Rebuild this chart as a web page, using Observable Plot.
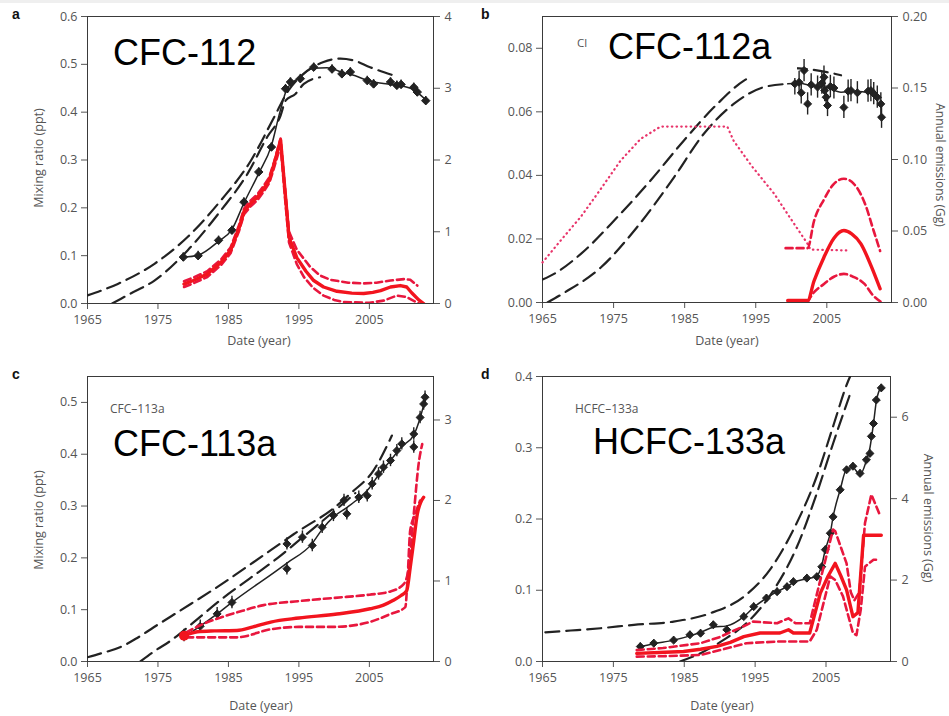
<!DOCTYPE html>
<html><head><meta charset="utf-8">
<script src="https://cdn.jsdelivr.net/npm/d3@7"></script>
<script src="https://cdn.jsdelivr.net/npm/@observablehq/plot@0.6"></script>
<style>
html,body{margin:0;padding:0;background:#fff;}
#root{position:relative;width:949px;height:716px;overflow:hidden;background:#fff;}
#root > div, #root > svg.overlay{position:absolute;}
</style></head>
<body><div id="root"></div>
<script>
// ---------- shared axis values ----------
const X_DOMAIN = [1965, 2014.1];
const X_TICKS = [1965, 1975, 1985, 1995, 2005];

// ---------- panel a : CFC-112 ----------
const a_obs = [[1978.6,0.097],[1980.7,0.100],[1983.6,0.132],[1985.5,0.153],[1987.2,0.212],[1989.3,0.275],[1991.1,0.327],[1993.1,0.449],[1993.8,0.463],[1995.2,0.470],[1997.1,0.494],[1999.7,0.490],[2001.1,0.480],[2002.3,0.484],[2004.7,0.466],[2005.6,0.459],[2008.0,0.463],[2008.9,0.456],[2009.5,0.458],[2011.3,0.452],[2011.8,0.442],[2013.0,0.424]];
const a_fit = [[1978.6,0.097],[1980.7,0.101],[1983.6,0.130],[1985.5,0.155],[1987.2,0.210],[1989.3,0.272],[1991.1,0.330],[1992.3,0.400],[1993.3,0.448],[1995.0,0.472],[1997.0,0.492],[1999.0,0.493],[2001.0,0.484],[2003.0,0.476],[2005.0,0.465],[2007.0,0.460],[2009.0,0.456],[2011.0,0.449],[2013.0,0.426]];
const a_modHi = [[1965,0.017],[1969.3,0.041],[1974.5,0.083],[1979.2,0.139],[1983.9,0.215],[1988.2,0.299],[1991.5,0.390],[1993.5,0.445],[1995.5,0.478],[1998.5,0.505],[2000.9,0.512],[2002.8,0.508],[2005.1,0.494],[2008.4,0.477]];
const a_modLo = [[1968.5,0.0],[1971,0.02],[1974.5,0.048],[1979.2,0.111],[1983.9,0.194],[1987.7,0.271],[1990.5,0.348],[1992.4,0.393],[1993.1,0.424],[1994.5,0.438],[1995.7,0.459],[1998.0,0.473]];
const a_emis = [[1978.7,0.27],[1980,0.32],[1982,0.41],[1984,0.58],[1985.3,0.74],[1986.5,1.05],[1987.2,1.28],[1988.2,1.40],[1989.1,1.48],[1990,1.60],[1990.8,1.72],[1991.5,1.95],[1992.4,2.28],[1993.0,1.60],[1993.6,0.92],[1994.7,0.64],[1996,0.45],[1997.1,0.32],[1998.5,0.23],[2000.4,0.17],[2002.5,0.145],[2004.2,0.14],[2005.5,0.155],[2006.6,0.18],[2008,0.23],[2009.4,0.25],[2010.3,0.23],[2011,0.15],[2012,0.05],[2012.7,0.0]];
const a_emisHi = [[1978.7,0.31],[1980,0.36],[1982,0.45],[1984,0.62],[1985.3,0.78],[1986.5,1.09],[1987.2,1.32],[1988.2,1.44],[1989.1,1.52],[1990,1.64],[1990.8,1.76],[1991.5,1.98],[1992.4,2.30],[1993.0,1.65],[1993.6,1.00],[1994.7,0.75],[1996.6,0.51],[1998,0.39],[1999.5,0.33],[2002,0.29],[2004.2,0.28],[2006,0.29],[2008,0.32],[2009.9,0.34],[2010.8,0.33],[2011.8,0.25]];
const a_emisLo = [[1978.7,0.23],[1980,0.28],[1982,0.37],[1984,0.54],[1985.3,0.70],[1986.5,1.01],[1987.2,1.24],[1988.2,1.36],[1989.1,1.44],[1990,1.56],[1990.8,1.68],[1991.5,1.90],[1992.4,2.20],[1993.0,1.50],[1993.6,0.85],[1994.7,0.55],[1995.7,0.37],[1997,0.22],[1998.5,0.11],[2000,0.05],[2001.4,0.02],[2005,0.01],[2007,0.04],[2008.9,0.11],[2010.3,0.09],[2012,0.0]];
const a_ticksL = [0,0.1,0.2,0.3,0.4,0.5,0.6];
const a_ticksR = [0,1,2,3,4];

// ---------- panel b : CFC-112a ----------
const b_obs = [[2000.5,0.0688],[2001.1,0.0693],[2001.4,0.0660],[2001.8,0.0730],[2002.3,0.0625],[2002.8,0.0685],[2003.7,0.0678],[2004.3,0.0690],[2004.6,0.0709],[2004.7,0.0667],[2004.9,0.0646],[2005.1,0.0620],[2005.5,0.0680],[2006.0,0.0675],[2007.4,0.0614],[2008.0,0.0665],[2008.4,0.0667],[2009.3,0.0660],[2010.8,0.0665],[2011.2,0.0667],[2011.6,0.0657],[2012.1,0.0646],[2012.6,0.0625],[2012.7,0.0583]];
const b_fit = [[1999.5,0.0688],[2001,0.0690],[2003,0.0682],[2005,0.0676],[2007,0.0662],[2009,0.0665],[2011,0.0660],[2012.6,0.0645]];
const b_modHi = [[1965,0.0072],[1967,0.0095],[1970.4,0.0153],[1975.5,0.0268],[1980.2,0.0384],[1984.9,0.0510],[1989.6,0.0625],[1993.4,0.0699],[1996,0.0725],[1999,0.0738],[2002,0.0735],[2005,0.0725],[2007,0.0715]];
const b_modLo = [[1965.7,0.0],[1968,0.003],[1973.2,0.011],[1978.3,0.0237],[1983.5,0.0394],[1987.7,0.0531],[1991.9,0.0625],[1996.2,0.0678],[1999.5,0.0688]];
const b_scen = [[1965,0.028],[1967.5,0.043],[1970.4,0.060],[1973,0.078],[1976,0.0993],[1978.8,0.1144],[1981.6,0.123],[1991,0.123],[1991.9,0.113],[1994.5,0.095],[1997.6,0.076],[2000,0.058],[2002.3,0.041],[2002.7,0.037],[2007.9,0.0364]];
const b_emis = [[1999.5,0.0014],[2002.3,0.0014],[2003.2,0.015],[2004.6,0.0317],[2006,0.045],[2007.4,0.0503],[2008.5,0.048],[2009.8,0.041],[2011.2,0.026],[2012.5,0.0096]];
const b_emisHi = [[1999.2,0.038],[2002.3,0.038],[2003.2,0.057],[2004.6,0.072],[2006,0.083],[2007.4,0.0865],[2008.8,0.083],[2010.3,0.070],[2011.6,0.050],[2012.5,0.036]];
const b_emisLo = [[2002.3,0.0],[2002.7,0.0037],[2004.6,0.013],[2006,0.018],[2007.4,0.020],[2008.7,0.018],[2010.3,0.013],[2011.5,0.005],[2012.6,0.0005]];
const b_ticksL = [0,0.02,0.04,0.06,0.08];
const b_ticksR = [0,0.05,0.10,0.15,0.20];

// ---------- panel c : CFC-113a ----------
const c_obs = [[1978.7,0.050],[1981.0,0.068],[1983.4,0.092],[1985.5,0.114],[1993.3,0.179],[1993.3,0.227],[1995.5,0.240],[1996.9,0.224],[1998.3,0.259],[1999.9,0.282],[2001.4,0.311],[2001.8,0.285],[2003.5,0.317],[2004.7,0.320],[2005.4,0.343],[2006.3,0.362],[2007.0,0.375],[2008.0,0.388],[2008.9,0.407],[2009.6,0.420],[2011.3,0.439],[2011.3,0.414],[2012.2,0.471],[2012.7,0.497],[2012.9,0.510]];
const c_fit = [[1978.5,0.045],[1983.4,0.092],[1985.5,0.114],[1993.3,0.190],[1996.9,0.228],[1998.3,0.255],[2000,0.280],[2001.8,0.297],[2003.5,0.315],[2005,0.335],[2006.3,0.360],[2008,0.388],[2009.6,0.415],[2011.3,0.437],[2012.2,0.470],[2012.9,0.505]];
const c_modHi = [[1965,0.0083],[1967,0.016],[1969.7,0.028],[1972,0.045],[1974.4,0.066],[1978,0.097],[1983,0.140],[1988.6,0.192],[1994.3,0.246],[2000.4,0.301],[2002.3,0.324],[2005.6,0.369],[2008.2,0.436]];
const c_modLo = [[1972.5,0.0],[1974.5,0.020],[1976.8,0.040],[1980,0.075],[1984,0.120],[1988,0.160],[1992,0.200],[1996,0.245],[2000,0.290],[2003,0.325]];
const c_emis = [[1978.7,0.32],[1980.6,0.37],[1983,0.38],[1986.2,0.385],[1988.5,0.43],[1991,0.49],[1995,0.54],[2000.4,0.59],[2005.1,0.655],[2007,0.70],[2008.4,0.76],[2009.5,0.82],[2010.3,0.88],[2010.8,1.17],[2011.3,1.50],[2011.8,1.83],[2012.7,2.04]];
const c_emisHi = [[1979,0.36],[1981,0.45],[1984,0.55],[1987,0.63],[1990,0.70],[1995,0.75],[2000,0.79],[2005,0.83],[2008,0.87],[2009.9,0.965],[2010.6,1.17],[2011.3,1.83],[2012,2.46],[2012.5,2.70]];
const c_emisLo = [[1979,0.30],[1981,0.30],[1986.2,0.30],[1991,0.40],[1995,0.43],[2000,0.43],[2005,0.49],[2008,0.59],[2010.1,0.675],[2010.4,1.0],[2010.8,1.63],[2011.5,1.83],[2012.2,2.0]];
const c_ticksL = [0,0.1,0.2,0.3,0.4,0.5];
const c_ticksR = [0,1,2,3];

// ---------- panel d : HCFC-133a ----------
const d_obs = [[1978.8,0.021],[1980.7,0.0257],[1983.5,0.030],[1985.8,0.0375],[1987.3,0.0397],[1989.1,0.0515],[1991.0,0.0445],[1993.4,0.063],[1994.8,0.077],[1996.6,0.089],[1998.1,0.098],[1999.5,0.105],[2000.4,0.112],[2002.3,0.117],[2003.7,0.119],[2004.4,0.133],[2004.9,0.157],[2005.6,0.180],[2006.0,0.203],[2007.0,0.241],[2007.9,0.269],[2008.8,0.274],[2009.8,0.264],[2010.7,0.283],[2011.2,0.292],[2011.4,0.316],[2011.7,0.334],[2012.1,0.367],[2012.8,0.384]];
const d_fit = [[1978.8,0.021],[1980.7,0.025],[1983.5,0.030],[1985.8,0.036],[1987.3,0.041],[1989.1,0.048],[1991.0,0.050],[1993.4,0.063],[1994.8,0.076],[1996.6,0.089],[1998.1,0.098],[1999.5,0.105],[2000.4,0.111],[2002.3,0.116],[2003.7,0.120],[2004.4,0.135],[2004.9,0.157],[2005.6,0.180],[2006.0,0.203],[2007.0,0.241],[2007.9,0.270],[2008.8,0.272],[2009.8,0.262],[2010.7,0.282],[2011.2,0.300],[2011.7,0.334],[2012.1,0.365],[2012.8,0.386]];
const d_modHi = [[1965.4,0.041],[1969,0.0435],[1973.2,0.0467],[1977.9,0.0515],[1983.5,0.056],[1988.7,0.0678],[1993.4,0.091],[1997.1,0.129],[2000.4,0.185],[2003.7,0.260],[2006,0.330],[2008.1,0.393],[2008.4,0.400]];
const d_modLo = [[1984.4,0.0],[1987.3,0.0117],[1990.5,0.030],[1993.8,0.054],[1997.6,0.100],[2000.9,0.161],[2003.7,0.236],[2006,0.306],[2008.6,0.381]];
const d_emis = [[1978.3,0.20],[1981.5,0.22],[1984.9,0.245],[1987.3,0.30],[1989.6,0.37],[1991.5,0.47],[1993.4,0.61],[1995.7,0.70],[1998.5,0.70],[1999.7,0.78],[2000.4,0.70],[2002.7,0.70],[2004.2,1.68],[2005.3,2.10],[2006.3,2.41],[2007.1,2.10],[2007.9,1.76],[2008.8,1.10],[2009.5,1.20],[2010.3,3.10],[2012.8,3.10]];
const d_emisHi = [[1978.3,0.28],[1982,0.33],[1987.3,0.45],[1990,0.60],[1993.8,0.90],[1994.7,0.98],[1998.1,0.94],[1999.7,1.06],[2000.7,0.94],[2002.7,0.94],[2004.2,2.00],[2006,3.24],[2006.3,3.20],[2007.9,2.41],[2008.5,1.70],[2009,1.50],[2009.7,1.70],[2010.5,3.40],[2011.4,4.10],[2012.6,3.60]];
const d_emisLo = [[1978.3,0.12],[1982,0.13],[1987.3,0.16],[1990.5,0.30],[1993.8,0.45],[1998.1,0.49],[2002.7,0.49],[2003.7,0.78],[2005.6,2.09],[2006.3,2.00],[2007.4,1.60],[2008.8,0.70],[2009.3,0.65],[2009.9,1.27],[2010.5,2.33],[2011.7,2.50],[2012.6,2.50]];
const d_ticksL = [0,0.1,0.2,0.3,0.4];
const d_ticksR = [0,2,4,6];

// ---------- styling ----------
const BLACK = "#222";
const RED = "#f2141e";
const RED_DASH = "#e8173e";
const PINK = "#e8346a";

const P = arr => arr.map(([x, y]) => ({x, y}));

function modelLines(hi, lo) {
  const o = {x: "x", y: "y", stroke: BLACK, strokeWidth: 2.2, strokeDasharray: "14,7", curve: "monotone-x", clip: true};
  return [Plot.line(P(hi), o), Plot.line(P(lo), o)];
}
function obsMarks(obs, fit, err, r) {
  return [
    Plot.line(P(fit), {x: "x", y: "y", stroke: BLACK, strokeWidth: 1.5, curve: "monotone-x"}),
    Plot.ruleX(P(obs), {x: "x", y1: d => d.y - err, y2: d => d.y + err, stroke: BLACK, strokeWidth: 1.4}),
    Plot.dot(P(obs), {x: "x", y: "y", symbol: "diamond2", r: r, fill: BLACK, stroke: BLACK, strokeWidth: 1})
  ];
}
function emisMarks(mid, hi, lo, curve) {
  const dash = {x: "x", y: "y", stroke: RED_DASH, strokeWidth: 2.6, strokeDasharray: "7,4", curve, clip: true};
  return [
    Plot.line(P(hi), dash),
    Plot.line(P(lo), dash),
    Plot.line(P(mid), {x: "x", y: "y", stroke: RED, strokeWidth: 3.4, curve, clip: true})
  ];
}

const root = document.getElementById("root");

function panel(cfg) {
  const common = {
    width: cfg.w, height: cfg.h,
    marginLeft: cfg.mL, marginRight: cfg.mR, marginTop: cfg.mT, marginBottom: cfg.mB,
    style: {background: "transparent", fontFamily: "'Open Sans', sans-serif", fontSize: "12.5px", color: "#555", overflow: "visible"}
  };
  const left = Plot.plot({
    ...common,
    x: {domain: X_DOMAIN, ticks: X_TICKS, tickFormat: d => String(d), tickSize: 6, tickPadding: 6, label: null},
    y: {domain: cfg.yL, ticks: cfg.tL, tickFormat: d3.format(cfg.fL), tickSize: 6, tickPadding: 4, label: null},
    marks: [Plot.frame({stroke: "#3a3a3a", strokeWidth: 1}), ...cfg.leftMarks]
  });
  const right = Plot.plot({
    ...common,
    x: {domain: X_DOMAIN, axis: null},
    y: {domain: cfg.yR, axis: "right", ticks: cfg.tR, tickFormat: d3.format(cfg.fR), tickSize: 6, tickPadding: 5, label: null},
    marks: cfg.rightMarks
  });
  for (const el of [left, right]) {
    const wrap = document.createElement("div");
    wrap.style.cssText = `position:absolute;left:${cfg.left}px;top:${cfg.top}px;width:${cfg.w}px;height:${cfg.h}px;`;
    wrap.appendChild(el);
    root.appendChild(wrap);
  }
}

panel({
  left: 0, top: 0, w: 475, h: 355, mL: 87, mR: 42, mT: 16, mB: 52,
  yL: [0, 0.6], tL: a_ticksL, fL: ".1f", yR: [0, 4], tR: a_ticksR, fR: "d",
  leftMarks: [...modelLines(a_modHi, a_modLo), ...obsMarks(a_obs, a_fit, 0.009, 3.8)],
  rightMarks: emisMarks(a_emis, a_emisHi, a_emisLo, "linear")
});
panel({
  left: 475, top: 0, w: 474, h: 355, mL: 67, mR: 58, mT: 16, mB: 53,
  yL: [0, 0.09], tL: b_ticksL, fL: ".2f", yR: [0, 0.2], tR: b_ticksR, fR: ".2f",
  leftMarks: [...modelLines(b_modHi, b_modLo), ...obsMarks(b_obs, b_fit, 0.0035, 3.6)],
  rightMarks: [
    Plot.line(P(b_scen), {x: "x", y: "y", stroke: PINK, strokeWidth: 2.2, strokeDasharray: "0.5,4.2", strokeLinecap: "round"}),
    ...emisMarks(b_emis, b_emisHi, b_emisLo, "monotone-x")
  ]
});
panel({
  left: 0, top: 360, w: 475, h: 356, mL: 87, mR: 42, mT: 16, mB: 55,
  yL: [0, 0.55], tL: c_ticksL, fL: ".1f", yR: [0, 3.54], tR: c_ticksR, fR: "d",
  leftMarks: [...modelLines(c_modHi, c_modLo), ...obsMarks(c_obs, c_fit, 0.012, 3.6)],
  rightMarks: [
    ...emisMarks(c_emis, c_emisHi, c_emisLo, "monotone-x"),
    Plot.dot(P(c_emis.slice(0, 1)), {x: "x", y: "y", r: 5, fill: RED})
  ]
});
panel({
  left: 475, top: 360, w: 474, h: 356, mL: 67, mR: 59, mT: 16, mB: 55,
  yL: [0, 0.4], tL: d_ticksL, fL: ".1f", yR: [0, 7], tR: d_ticksR, fR: "d",
  leftMarks: [...modelLines(d_modHi, d_modLo), ...obsMarks(d_obs, d_fit, 0.005, 3.6)],
  rightMarks: emisMarks(d_emis, d_emisHi, d_emisLo, "linear")
});

// ---------- annotation overlay (labels, title boxes) ----------
const svg = d3.select(root).append("svg").attr("class", "overlay")
  .attr("width", 949).attr("height", 716)
  .style("position", "absolute").style("left", "0px").style("top", "0px").style("pointer-events", "none");

svg.append("rect").attr("x", 0).attr("y", 0).attr("width", 949).attr("height", 3).attr("fill", "#efefef");

const SANS = "'Open Sans', sans-serif";
const texts = [
  {t: "a", x: 12, y: 19, s: 14, w: "bold", f: "'Liberation Sans', Arial, sans-serif", c: "#111"},
  {t: "b", x: 481, y: 19, s: 14, w: "bold", f: "'Liberation Sans', Arial, sans-serif", c: "#111"},
  {t: "c", x: 12, y: 379, s: 14, w: "bold", f: "'Liberation Sans', Arial, sans-serif", c: "#111"},
  {t: "d", x: 481, y: 379, s: 14, w: "bold", f: "'Liberation Sans', Arial, sans-serif", c: "#111"},
  {t: "Cl", x: 577, y: 47, s: 11.5, f: SANS, c: "#555"},
  {t: "CFC\u2013113a", x: 110, y: 413, s: 12, f: SANS, c: "#555"},
  {t: "HCFC\u2013133a", x: 575, y: 413, s: 12, f: SANS, c: "#555"},
  {t: "Date (year)", x: 259, y: 345, s: 12.5, f: SANS, c: "#555", a: "middle"},
  {t: "Date (year)", x: 727, y: 345, s: 12.5, f: SANS, c: "#555", a: "middle"},
  {t: "Date (year)", x: 261, y: 710, s: 12.5, f: SANS, c: "#555", a: "middle"},
  {t: "Date (year)", x: 722, y: 710, s: 12.5, f: SANS, c: "#555", a: "middle"},
  {t: "Mixing ratio (ppt)", x: 43, y: 158, s: 12.5, f: SANS, c: "#555", a: "middle", r: -90},
  {t: "Mixing ratio (ppt)", x: 43, y: 520, s: 12.5, f: SANS, c: "#555", a: "middle", r: -90},
  {t: "Annual emissions (Gg)", x: 924, y: 518, s: 12.5, f: SANS, c: "#555", a: "middle", r: 90},
  {t: "Annual emissions (Gg)", x: 936, y: 165, s: 12, f: SANS, c: "#555", a: "middle", r: 90}
];
for (const d of texts) {
  const el = svg.append("text")
    .attr("font-family", d.f).attr("font-size", d.s).attr("font-weight", d.w || "normal")
    .attr("fill", d.c).attr("text-anchor", d.a || "start").text(d.t);
  if (d.r) el.attr("transform", `translate(${d.x},${d.y}) rotate(${d.r})`);
  else el.attr("x", d.x).attr("y", d.y);
}

const titles = [
  {t: "CFC-112", bx: 105, by: 28, bw: 165, bh: 48, x: 113, y: 65},
  {t: "CFC-112a", bx: 597, by: 22, bw: 200, bh: 56, x: 608, y: 59},
  {t: "CFC-113a", bx: 105, by: 420, bw: 185, bh: 45, x: 113, y: 456},
  {t: "HCFC-133a", bx: 585, by: 420, bw: 210, bh: 45, x: 593, y: 454}
];
for (const d of titles) {
  svg.append("rect").attr("x", d.bx).attr("y", d.by).attr("width", d.bw).attr("height", d.bh).attr("fill", "#fff");
  svg.append("text").attr("x", d.x).attr("y", d.y)
    .attr("font-family", "'Liberation Sans', Arial, sans-serif").attr("font-size", 36).attr("fill", "#000")
    .text(d.t);
}
</script>
</body></html>
